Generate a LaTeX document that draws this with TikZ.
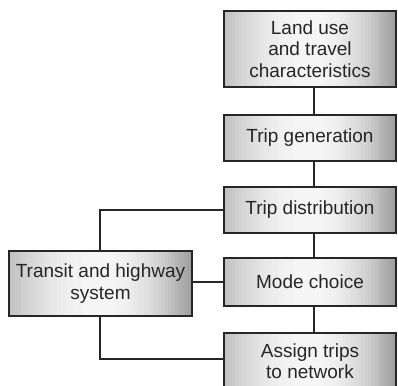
\documentclass[tikz,border=0pt]{standalone}
\usepackage{fontspec}
\setmainfont{Liberation Sans}
% horizontal grey ramp laid under a box: darker at both sides, near white in the middle
\newcommand{\rampunder}[1]{%
  \foreach \i in {0,...,59}{%
    \pgfmathsetmacro\ma{(\i+0.5)/60}%
    \pgfmathsetmacro\da{abs(2*\ma-1)}%
    \pgfmathtruncatemacro\pa{\ma<0.5 ? 4+22*\da*\da : 4+36*\da*\da}%
    \pgfmathsetmacro\fa{\i/60}%
    \pgfmathsetmacro\fb{(\i+1.05)/60}%
    \fill[black!\pa] let \p1=(#1.south west), \p2=(#1.north east) in
      ({\x1+\fa*(\x2-\x1)},\y1) rectangle ({min(\x1+\fb*(\x2-\x1),\x2)},\y2);
  }}
\usetikzlibrary{calc,backgrounds}
\begin{document}
\begin{tikzpicture}[x=1pt,y=1pt,
  stagebox/.style={draw=black!85, line width=1.5pt, rectangle,
    text=black!85, align=center, inner sep=0pt,
    font=\fontsize{19}{21.5}\selectfont},
  link/.style={draw=black!85, line width=1.5pt}]
\useasboundingbox (0,0) rectangle (398,385);
\node[stagebox, minimum width=172pt, minimum height=76pt] (land) at (310,336)
  {Land use\\and travel\\characteristics};
\node[stagebox, minimum width=172pt, minimum height=46pt] (gen) at (310,247) {Trip generation};
\node[stagebox, minimum width=172pt, minimum height=46pt] (dist) at (310,175) {Trip distribution};
\node[stagebox, minimum width=172pt, minimum height=48pt] (mode) at (310,103) {Mode choice};
\node[stagebox, minimum width=172pt, minimum height=56pt, text depth=0pt] (assign) at (310,24)
  {Assign trips\\to network};
\node[stagebox, minimum width=183pt, minimum height=65pt] (transit) at (100.5,101.5)
  {Transit and highway\\system};
\begin{scope}[on background layer]
  \foreach \b in {land,gen,dist,mode,assign,transit}{\rampunder{\b}}
\end{scope}
% spine of the main sequence
\coordinate (spine) at (314,0);
\coordinate (feed) at (100,0);
\draw[link] (land.south -| spine) -- (gen.north -| spine);
\draw[link] (gen.south -| spine) -- (dist.north -| spine);
\draw[link] (dist.south -| spine) -- (mode.north -| spine);
\draw[link] (mode.south -| spine) -- (assign.north -| spine);
% supply side feeding the model
\draw[link] (transit.north -| feed) |- (dist.west);
\draw[link] (transit.east |- mode.west) -- (mode.west);
\draw[link] (transit.south -| feed) |- (assign.west |- 0,26);
\end{tikzpicture}
\end{document}
